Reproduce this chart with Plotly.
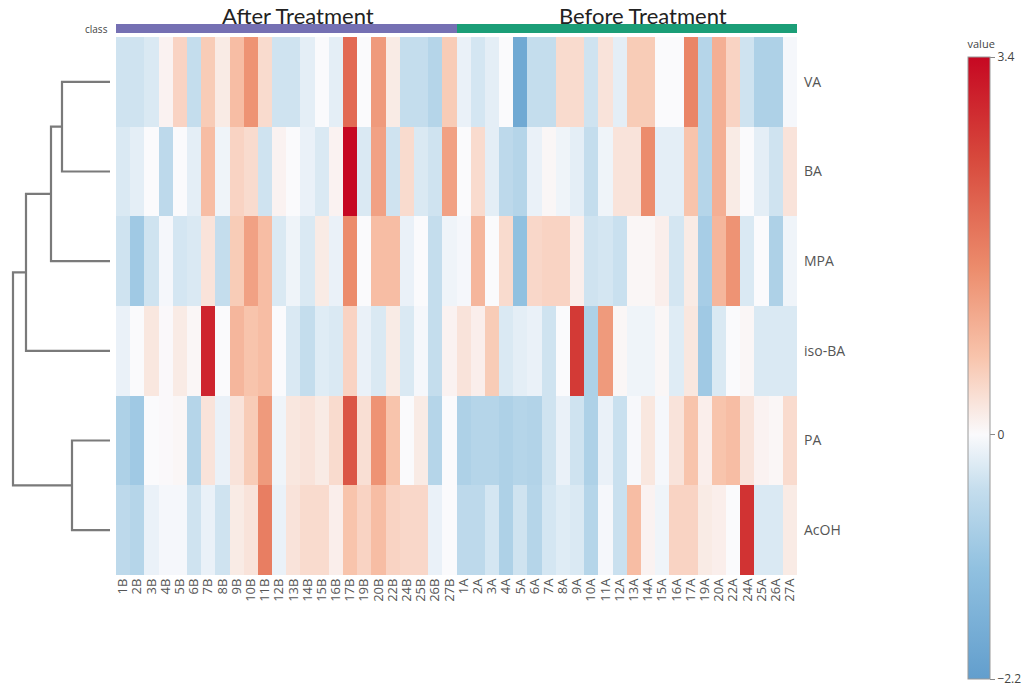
import plotly.graph_objects as go

W, H = 1029, 688

rows = ["VA", "BA", "MPA", "iso-BA", "PA", "AcOH"]
after_labels = ["1B", "2B", "3B", "4B", "5B", "6B", "7B", "8B", "9B", "10B", "11B", "12B",
                "13B", "14B", "15B", "16B", "17B", "19B", "20B", "22B", "24B", "25B", "26B", "27B"]
before_labels = ["1A", "2A", "3A", "4A", "5A", "6A", "7A", "8A", "9A", "10A", "11A", "12A",
                 "13A", "14A", "15A", "16A", "17A", "19A", "20A", "22A", "24A", "25A", "26A", "27A"]

va_after = [-0.4, -0.4, -0.3, 0.1, 0.5, -0.5, 0.6, 0.2, 0.8, 1.4, 0.4, -0.4,
            -0.4, -0.2, 0.0, -0.2, 2.0, 0.0, 1.3, 0.2, -0.5, -0.5, -0.7, 0.6]
va_before = [-0.15, -0.35, -0.2, 0.0, -1.9, -0.5, -0.5, 0.4, 0.4, -0.4, 0.3, -0.2,
             0.6, 0.6, 0.0, 0.0, 1.6, -0.7, 1.0, 0.5, -0.4, -0.8, -0.8, -0.05]
ba_after = [-0.3, -0.2, 0.0, -0.6, 0.0, -0.2, 0.8, -0.1, 0.5, 0.4, -0.4, 0.1,
            0.0, -0.15, -0.3, 0.1, 3.4, -0.3, 1.2, -0.4, 0.4, -0.3, -0.4, 1.2]
ba_before = [0.0, 0.4, -0.2, -0.6, -0.7, -0.15, 0.05, -0.1, -0.2, -0.5, -0.1, 0.3,
             0.3, 1.5, -0.2, -0.2, 0.7, -0.7, 1.0, 0.2, 0.0, -0.2, -0.4, 0.3]
mpa_after = [-0.4, -1.0, -0.4, -0.05, -0.35, -0.3, 0.3, -0.5, 0.6, 1.2, 0.8, -0.3,
             -0.1, -0.3, 0.2, -0.15, 1.5, 0.0, 0.8, 0.8, -0.15, 0.0, -0.5, -0.1]
mpa_before = [-0.05, 0.9, 0.0, 0.4, -1.2, 0.45, 0.5, 0.5, 0.15, -0.4, -0.35, -0.45,
              0.05, 0.05, 0.15, -0.35, 0.2, -0.9, 0.9, 1.4, -0.3, 0.0, -0.8, -0.1]
iso_ba_after = [-0.15, 0.0, 0.25, 0.02, 0.2, 0.05, 3.0, 0.0, 0.9, 0.7, 0.8, 0.0,
                -0.3, -0.5, -0.25, -0.3, 0.5, -0.15, -0.3, 0.2, -0.3, -0.05, -0.5, 0.1]
iso_ba_before = [0.3, 0.15, 0.6, -0.3, -0.2, -0.15, -0.4, 0.0, 2.7, -0.8, 1.3, 0.05,
                 -0.1, -0.1, 0.05, -0.25, 0.25, -1.0, -0.3, 0.0, 0.05, -0.3, -0.3, -0.3]
pa_after = [-0.8, -1.0, 0.0, 0.02, 0.05, -0.7, 0.3, -0.15, 0.3, 0.6, 1.3, -0.1,
            0.25, 0.3, 0.2, 0.4, 2.3, 0.35, 1.4, 0.7, 0.0, 0.2, -0.7, 0.0]
pa_before = [-0.8, -0.7, -0.7, -0.8, -0.7, -0.75, -0.4, -0.15, -0.4, -0.8, -0.15, -0.45,
             -0.03, 0.25, -0.05, 0.3, 0.7, 0.15, 0.7, 0.8, 0.3, 0.1, 0.05, 0.4]
acoh_after = [-0.6, -0.7, -0.15, -0.05, -0.05, -0.4, -0.15, -0.4, 0.2, 0.3, 1.7, -0.15,
              0.3, 0.4, 0.4, 0.15, 0.7, 0.5, 0.8, 0.5, 0.45, 0.45, -0.15, 0.0]
acoh_before = [-0.6, -0.6, -0.35, -0.8, -0.4, -0.7, -0.35, -0.25, -0.3, -0.7, -0.05, -0.45,
               0.8, 0.1, -0.1, 0.5, 0.5, 0.2, 0.15, 0.0, 2.8, -0.3, -0.3, 0.2]

class_names = ["After Treatment", "Before Treatment"]
class_colors = ["#7570b3", "#1b9e77"]

# dendrogram merges: (child a, child b, height)
dendro_merges = [("VA", "BA", 48), ("VA+BA", "MPA", 59), ("VA+BA+MPA", "iso-BA", 84),
                 ("PA", "AcOH", 38), ("VA+BA+MPA+iso-BA", "PA+AcOH", 97)]

zmin, zmax = -2.2, 3.4

cols = after_labels + before_labels
z = [va_after + va_before, ba_after + ba_before, mpa_after + mpa_before,
     iso_ba_after + iso_ba_before, pa_after + pa_before, acoh_after + acoh_before]
xs = list(range(len(cols)))
ys = list(range(len(rows)))


def frac(v):
    return (v - zmin) / (zmax - zmin)


colorscale = [
    [frac(-2.2), "rgb(98,158,205)"],
    [frac(-1.2), "rgb(145,193,224)"],
    [frac(-0.5), "rgb(196,221,237)"],
    [frac(0.0), "rgb(250,250,252)"],
    [frac(0.7), "rgb(248,196,172)"],
    [frac(1.5), "rgb(236,140,108)"],
    [frac(2.5), "rgb(215,72,60)"],
    [frac(3.4), "rgb(198,8,34)"],
]

fig = go.Figure()

fig.add_trace(go.Heatmap(
    z=z, x=xs, y=ys, zmin=zmin, zmax=zmax, colorscale=colorscale,
    xaxis="x", yaxis="y",
    colorbar=dict(
        title=dict(text="value", font=dict(size=11, color="#444"), side="top"),
        x=968 / W, xanchor="left", xpad=0, ypad=0, thickness=22, len=642 / H,
        y=1 - 358 / H, yanchor="middle",
        tickvals=[zmin, 0, zmax], ticktext=["\u22122.2", "0", "3.4"],
        ticks="outside", ticklen=5, tickcolor="#888",
        tickfont=dict(size=12, color="#444"),
        outlinewidth=1, outlinecolor="#999",
    ),
))

class_z = [[0] * len(after_labels) + [1] * len(before_labels)]
fig.add_trace(go.Heatmap(
    z=class_z, x=xs, y=[0], zmin=0, zmax=1,
    colorscale=[[0, class_colors[0]], [0.5, class_colors[0]], [0.5, class_colors[1]], [1, class_colors[1]]],
    showscale=False, xaxis="x", yaxis="y3", hoverinfo="skip",
))

pos = {r: (i, 0) for i, r in enumerate(rows)}
for a, b, h in dendro_merges:
    ya, ha = pos[a]
    yb, hb = pos[b]
    fig.add_trace(go.Scatter(
        x=[ha, h, h, hb], y=[ya, ya, yb, yb], mode="lines",
        line=dict(color="#7a7a7a", width=2.2), xaxis="x2", yaxis="y",
        showlegend=False, hoverinfo="skip",
    ))
    pos[a + "+" + b] = ((ya + yb) / 2, h)

x_dom = [116 / W, 797 / W]
y_dom = [1 - 575 / H, 1 - 37 / H]

fig.update_layout(
    width=W, height=H,
    margin=dict(l=0, r=0, t=0, b=0, autoexpand=False),
    paper_bgcolor="white", plot_bgcolor="white",
    font=dict(family="Open Sans, sans-serif", color="#444"),
    showlegend=False,
    xaxis=dict(domain=x_dom, range=[-0.5, len(cols) - 0.5], tickvals=xs, ticktext=cols,
               tickangle=-90, tickfont=dict(size=13, color="#555"), showgrid=False,
               zeroline=False, showline=False, ticks="", anchor="y", automargin=False),
    yaxis=dict(domain=y_dom, range=[len(rows) - 0.5, -0.5], tickvals=ys, ticktext=rows,
               side="right", tickfont=dict(size=14, color="#555"), showgrid=False,
               zeroline=False, ticks="", anchor="x", automargin=False, ticklabelstandoff=6),
    xaxis2=dict(domain=[0, 110 / W], range=[110, 0], visible=False, anchor="y"),
    yaxis3=dict(domain=[1 - 33 / H, 1 - 24 / H], range=[-0.5, 0.5], visible=False, anchor="x"),
    annotations=[
        dict(text=class_names[0], x=298 / W, y=1 - 15 / H, xref="paper", yref="paper",
             showarrow=False, font=dict(size=22, color="#222", family="Lato, sans-serif"),
             xanchor="center", yanchor="middle"),
        dict(text=class_names[1], x=643 / W, y=1 - 15 / H, xref="paper", yref="paper",
             showarrow=False, font=dict(size=22, color="#222", family="Lato, sans-serif"),
             xanchor="center", yanchor="middle"),
        dict(text="class", x=110 / W, y=1 - 29 / H, xref="paper", yref="paper",
             showarrow=False, font=dict(size=10, color="#444"),
             xanchor="right", yanchor="middle"),
    ],
)

fig.write_html("out.html")
